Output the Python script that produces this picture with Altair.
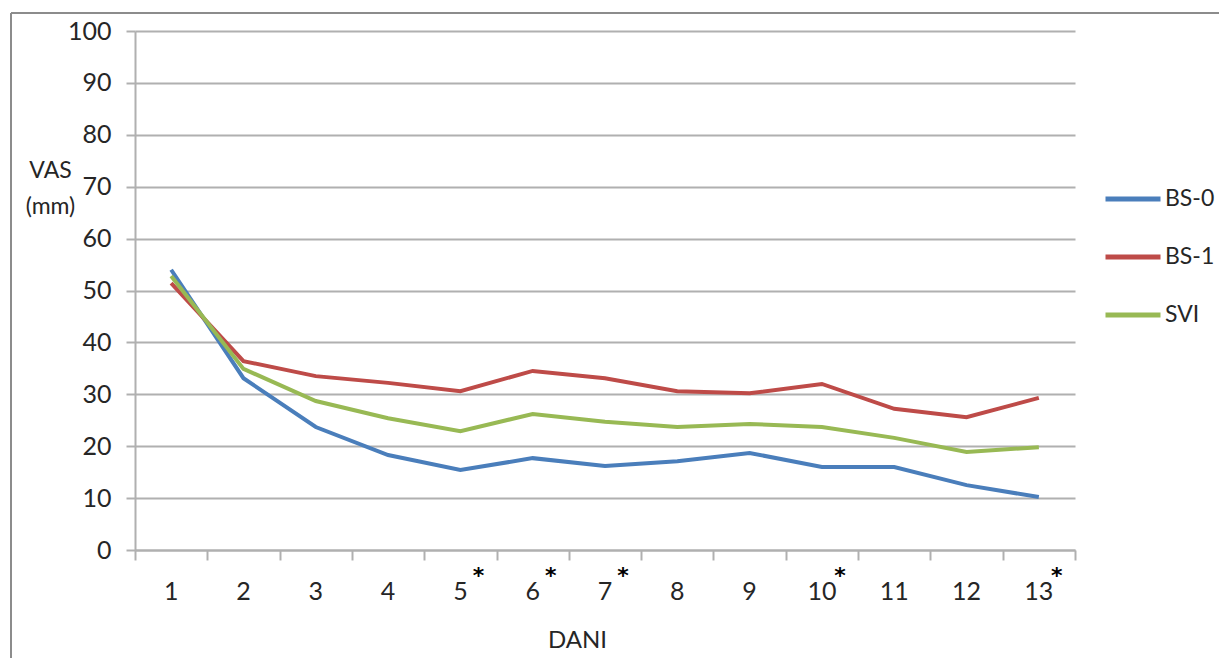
import altair as alt
import pandas as pd

# ---- data ----
days = list(range(1, 14))
bs0 = [54.0, 33.1, 23.7, 18.3, 15.4, 17.7, 16.2, 17.1, 18.7, 16.0, 16.0, 12.5, 10.2]
bs1 = [51.4, 36.4, 33.5, 32.2, 30.6, 34.5, 33.1, 30.6, 30.2, 32.0, 27.2, 25.6, 29.3]
svi = [52.8, 34.9, 28.7, 25.4, 22.9, 26.2, 24.7, 23.7, 24.3, 23.7, 21.6, 18.9, 19.8]
series_names = ["BS-0", "BS-1", "SVI"]
series_colors = ["#4a7ebb", "#be4b48", "#98b954"]
starred_days = [5, 6, 7, 10, 13]
y_ticks = list(range(0, 101, 10))
x_edges = [d - 0.5 for d in days] + [days[-1] + 0.5]

FONT = "Lato"
TXT = "#262626"
GRID = "#b0b0b0"
W, H = 940, 519

df = pd.DataFrame({
    "DANI": days * 3,
    "VAS": bs0 + bs1 + svi,
    "Serija": [n for n in series_names for _ in days],
})
labels_df = pd.DataFrame({"DANI": days, "label": [str(d) for d in days]})
stars_df = pd.DataFrame({"DANI": starred_days, "star": ["*"] * len(starred_days)})
one = pd.DataFrame({"a": [0]})

x_scale = alt.Scale(domain=[0.5, 13.5], nice=False, zero=False)
y_scale = alt.Scale(domain=[0, 100], nice=False, zero=True)

lines = alt.Chart(df).mark_line(strokeWidth=4).encode(
    x=alt.X("DANI:Q", scale=x_scale, axis=alt.Axis(
        values=x_edges, labels=False, grid=False, tickSize=10, tickWidth=2,
        tickColor=GRID, domainColor=GRID, domainWidth=2,
        title="DANI", titleFont=FONT, titleFontSize=24, titleFontWeight="normal",
        titleColor=TXT, titleX=442, titleY=90, titleAlign="center",
        titleBaseline="middle")),
    y=alt.Y("VAS:Q", scale=y_scale, axis=alt.Axis(
        values=y_ticks, grid=True, gridColor=GRID, gridWidth=2,
        tickSize=9, tickWidth=2, tickColor=GRID, domainColor=GRID, domainWidth=2,
        labelFont=FONT, labelFontSize=25, labelColor=TXT, labelPadding=15,
        title=["VAS", "(mm)"], titleAngle=0, titleFont=FONT, titleFontSize=23,
        titleFontWeight="normal", titleColor=TXT, titleX=-85, titleY=139,
        titleAlign="center", titleBaseline="middle", titleLineHeight=36)),
    color=alt.Color("Serija:N",
                    scale=alt.Scale(domain=series_names, range=series_colors),
                    legend=alt.Legend(
                        title=None, orient="none", legendX=968, legendY=138,
                        symbolType="stroke", symbolSize=3025, symbolStrokeWidth=5,
                        labelFont=FONT, labelFontSize=23, labelColor=TXT,
                        labelOffset=2, rowPadding=16)),
)

x_labels = alt.Chart(labels_df).mark_text(
    font=FONT, fontSize=25, color=TXT, baseline="middle", align="center"
).encode(
    x=alt.X("DANI:Q", scale=x_scale),
    y=alt.value(H + 42),
    text="label:N",
)

stars = alt.Chart(stars_df).mark_text(
    font="DejaVu Sans", fontSize=22, fontWeight="bold", color="#000000",
    baseline="middle", align="center", dx=18
).encode(
    x=alt.X("DANI:Q", scale=x_scale),
    y=alt.value(H + 26),
    text="star:N",
)

frame_top = alt.Chart(one).mark_rule(color="#8c8c8c", strokeWidth=2).encode(
    x=alt.value(-124), x2=alt.value(1200), y=alt.value(-18))
frame_left = alt.Chart(one).mark_rule(color="#8c8c8c", strokeWidth=2).encode(
    x=alt.value(-124), y=alt.value(-18), y2=alt.value(700))

chart = alt.layer(frame_top, frame_left, lines, x_labels, stars).properties(
    width=W, height=H,
    padding={"left": 127, "top": 23, "right": 144, "bottom": 108},
    autosize=alt.AutoSizeParams(type="none"),
).configure_view(stroke=None)

chart.save("out.html", embed_options={"renderer": "svg", "actions": False})
